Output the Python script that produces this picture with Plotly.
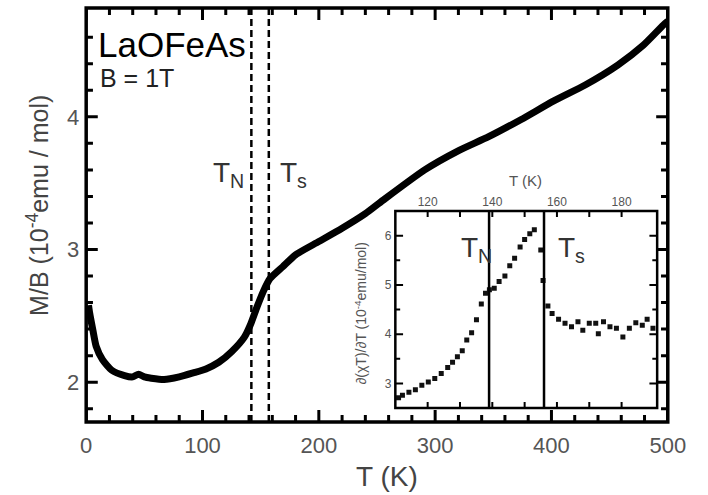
import plotly.graph_objects as go

# ---- main panel data: M/B vs T ----
T_main = [2, 3, 5.8, 8.6, 14, 22, 33, 40, 45, 50, 56, 67, 80, 92, 103, 114, 125,
          136, 141.5, 147, 152.6, 158, 169, 180, 200, 220, 240, 255, 291, 319,
          346, 374, 402, 429, 457, 479, 496, 500]
M_main = [2.58, 2.52, 2.39, 2.27, 2.17, 2.09, 2.05, 2.04, 2.06, 2.04, 2.03, 2.02,
          2.04, 2.07, 2.10, 2.15, 2.23, 2.34, 2.44, 2.57, 2.69, 2.78, 2.87, 2.96,
          3.06, 3.16, 3.27, 3.37, 3.60, 3.74, 3.85, 3.98, 4.12, 4.24, 4.39, 4.54,
          4.69, 4.72]
main_transitions = [142, 157]   # dashed lines T_N, T_s

# ---- inset data: d(chi T)/dT vs T ----
T_inset = [111.0, 112.2, 114.2, 116.2, 118.2, 120.2, 122.2, 124.2, 126.2, 127.7,
           129.2, 130.7, 132.1, 133.6, 135.1, 136.6, 137.9, 139.1, 140.6, 142.1,
           143.9, 145.4, 146.9, 148.6, 150.0, 151.6, 153.0, 155.0, 155.7, 157.2,
           158.5, 160.5, 162.5, 164.5, 166.5, 168.0, 170.0, 172.0, 172.8, 174.4,
           176.4, 178.4, 180.4, 182.4, 184.4, 186.4, 187.9, 189.7]
D_inset = [2.71, 2.76, 2.82, 2.87, 2.96, 3.03, 3.10, 3.20, 3.32, 3.43, 3.54, 3.66,
           3.88, 4.03, 4.29, 4.61, 4.83, 4.90, 4.93, 5.07, 5.18, 5.39, 5.54, 5.77,
           5.92, 6.04, 6.12, 5.71, 5.09, 4.57, 4.42, 4.30, 4.22, 4.15, 4.25, 4.08,
           4.22, 4.22, 4.01, 4.25, 4.15, 4.12, 3.94, 4.12, 4.23, 4.18, 4.30, 4.12]
inset_transitions = [139, 156]  # solid lines T_N, T_s

# ---- tick values ----
main_x_major = [0, 100, 200, 300, 400, 500]
main_x_minor = [20, 40, 60, 80, 120, 140, 160, 180, 220, 240, 260, 280, 320, 340,
                360, 380, 420, 440, 460, 480]
main_y_major = [2, 3, 4]
main_y_minor = [1.8, 2.2, 2.4, 2.6, 2.8, 3.2, 3.4, 3.6, 3.8, 4.2, 4.4, 4.6]
inset_x_major = [120, 140, 160, 180]
inset_x_minor = [130, 150, 170]
inset_y_major = [3, 4, 5, 6]
inset_y_minor = [3.5, 4.5, 5.5]

MAIN_XR = [0, 500]
MAIN_YR = [1.70, 4.82]
INS_XR = [110, 191]
INS_YR = [2.5, 6.5]

FONT = "Liberation Sans, Arial, sans-serif"

fig = go.Figure()
fig.add_trace(go.Scatter(x=T_main, y=M_main, mode="lines",
                         line=dict(color="black", width=7, shape="spline", smoothing=0.6),
                         xaxis="x", yaxis="y", hoverinfo="skip"))
fig.add_trace(go.Scatter(x=T_inset, y=D_inset, mode="markers",
                         marker=dict(color="#111", size=5, symbol="square"),
                         xaxis="x2", yaxis="y2", hoverinfo="skip"))


def tick_trace(xr, yr, wpx, hpx, xvals, yvals, lenpx, width, xa, ya):
    """Inside tick marks on all four sides, as one line trace."""
    dy = (yr[1] - yr[0]) * lenpx / hpx
    dx = (xr[1] - xr[0]) * lenpx / wpx
    xs, ys = [], []
    for v in xvals:
        xs += [v, v, None, v, v, None]
        ys += [yr[0], yr[0] + dy, None, yr[1], yr[1] - dy, None]
    for v in yvals:
        xs += [xr[0], xr[0] + dx, None, xr[1], xr[1] - dx, None]
        ys += [v, v, None, v, v, None]
    fig.add_trace(go.Scatter(x=xs, y=ys, mode="lines", xaxis=xa, yaxis=ya,
                             line=dict(color="black", width=width),
                             hoverinfo="skip", cliponaxis=False))


MW, MH = 685 - 83, 422 - 8
IW, IH = 674 - 403, 408 - 211
tick_trace(MAIN_XR, MAIN_YR, MW, MH, main_x_major, main_y_major, 12, 3, "x", "y")
tick_trace(MAIN_XR, MAIN_YR, MW, MH, main_x_minor, main_y_minor, 7, 3, "x", "y")
tick_trace(INS_XR, INS_YR, IW, IH, inset_x_major + inset_x_minor, [], 6, 2, "x2", "y2")
tick_trace(INS_XR, INS_YR, IW, IH, [], inset_y_major, 8, 2, "x2", "y2")
tick_trace(INS_XR, INS_YR, IW, IH, [], inset_y_minor, 5, 2, "x2", "y2")


def ax(**kw):
    d = dict(showgrid=False, zeroline=False, showline=False, ticks="",
             tickmode="array")
    d.update(kw)
    return d

fig.update_layout(
    width=708, height=495,
    margin=dict(l=0, r=0, t=0, b=0),
    paper_bgcolor="white", plot_bgcolor="white",
    showlegend=False,
    font=dict(family=FONT, color="#222"),
    xaxis=ax(domain=[83/708, 685/708], range=MAIN_XR, anchor="y",
             tickvals=main_x_major, ticklabelstandoff=8,
             tickfont=dict(size=22, color="#555")),
    yaxis=ax(domain=[(495-422)/495, (495-8)/495], range=MAIN_YR, anchor="x",
             tickvals=main_y_major, ticklabelstandoff=6,
             tickfont=dict(size=22, color="#555")),
    xaxis2=ax(domain=[403/708, 674/708], range=INS_XR, anchor="y2", side="top",
              tickvals=inset_x_major, ticklabelstandoff=2,
              tickfont=dict(size=12, color="#555")),
    yaxis2=ax(domain=[(495-408)/495, (495-211)/495], range=INS_YR, anchor="x2",
              tickvals=inset_y_major, ticklabelstandoff=3,
              tickfont=dict(size=12, color="#555")),
)

shapes = [
    dict(type="rect", xref="x domain", yref="y domain", x0=0, x1=1, y0=0, y1=1,
         line=dict(color="black", width=3.5)),
    dict(type="rect", xref="x2 domain", yref="y2 domain", x0=0, x1=1, y0=0, y1=1,
         line=dict(color="black", width=2.5)),
]
for t in main_transitions:
    shapes.append(dict(type="line", xref="x", yref="y domain", x0=t, x1=t, y0=0, y1=1,
                       line=dict(color="black", width=2.5, dash="7px,4px")))
for t in inset_transitions:
    shapes.append(dict(type="line", xref="x2", yref="y2 domain", x0=t, x1=t, y0=0, y1=1,
                       line=dict(color="black", width=2.5)))
fig.update_layout(shapes=shapes)

def px(x):
    return x / 708
def py(y):
    return (495 - y) / 495

ann = [
    dict(text="LaOFeAs", x=px(93), y=py(44), xanchor="left", yanchor="middle",
         font=dict(size=35, color="black")),
    dict(text="B = 1T", x=px(95), y=py(78), xanchor="left", yanchor="middle",
         font=dict(size=25, color="#222")),
    dict(text="T<sub>N</sub>", x=px(212), y=py(175), xanchor="left", yanchor="middle",
         font=dict(size=28, color="#333")),
    dict(text="T<sub>s</sub>", x=px(282), y=py(175), xanchor="left", yanchor="middle",
         font=dict(size=28, color="#333")),
    dict(text="T<sub>N</sub>", x=px(469), y=py(249), xanchor="left", yanchor="middle",
         font=dict(size=28, color="#333")),
    dict(text="T<sub>s</sub>", x=px(569), y=py(249), xanchor="left", yanchor="middle",
         font=dict(size=28, color="#333")),
    dict(text="T (K)", x=px(394), y=py(476), xanchor="center", yanchor="middle",
         font=dict(size=28, color="#444")),
    dict(text="M/B (10<sup>-4</sup>emu / mol)", x=px(33), y=py(205), xanchor="center",
         yanchor="middle", textangle=-90, font=dict(size=25, color="#444")),
    dict(text="T (K)", x=px(538), y=py(180), xanchor="center", yanchor="middle",
         font=dict(size=15, color="#555")),
    dict(text="\u2202(\u03c7T)/\u2202T (10<sup>-4</sup>emu/mol)", x=px(367), y=py(314),
         xanchor="center", yanchor="middle", textangle=-90,
         font=dict(size=14, color="#555")),
]
for a in ann:
    a.update(xref="paper", yref="paper", showarrow=False)
fig.update_layout(annotations=ann)

fig.write_html("out.html")
